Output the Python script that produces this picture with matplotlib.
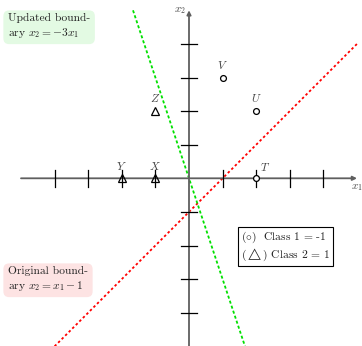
import matplotlib
matplotlib.use("Agg")
import matplotlib.pyplot as plt
import numpy as np

plt.rcParams["font.family"] = ["cmr10"]
plt.rcParams["mathtext.fontset"] = "cm"
plt.rcParams["lines.scale_dashes"] = False

# Labelled points and their classes
point_names = ["T", "U", "V", "X", "Y", "Z"]
point_x = [2, 2, 1, -1, -2, -1]
point_y = [0, 2, 3, 0, 0, 2]
point_class = [1, 1, 1, 2, 2, 2]   # 1 -> circle, 2 -> triangle

# Tick positions on both axes
tick_values = [-4, -3, -2, -1, 1, 2, 3, 4]

# Decision boundaries
orig_x = [-4, 5]            # x2 = x1 - 1
upd_x = [-5 / 3, 5 / 3]     # x2 = -3 x1

W, H = 362, 346
unit = 33.6
ox, oy = 189, 178.3
fig = plt.figure(figsize=(W / 100, H / 100), dpi=100)
ax = fig.add_axes([0, 0, 1, 1])
ax.set_xlim(-ox / unit, (W - ox) / unit)
ax.set_ylim(-(H - oy) / unit, oy / unit)
ax.axis("off")

axis_col = "#5f5f5f"
# axes with arrow heads
ax.annotate("", xy=(5.0, 0), xytext=(-5.0, 0),
            arrowprops=dict(arrowstyle="-|>", color=axis_col, lw=1.3,
                            mutation_scale=6, shrinkA=0, shrinkB=0))
ax.annotate("", xy=(0, 5.0), xytext=(0, -5.2),
            arrowprops=dict(arrowstyle="-|>", color=axis_col, lw=1.3,
                            mutation_scale=6, shrinkA=0, shrinkB=0))
ax.text(5.0, -0.1, r"$x_1$", ha="center", va="top", fontsize=8, color="#444444")
ax.text(-0.1, 5.0, r"$x_2$", ha="right", va="center", fontsize=8, color="#444444")

tl = 0.25
for t in tick_values:
    ax.plot([t, t], [-tl, tl], color="black", lw=0.9, zorder=3)
    ax.plot([-tl, tl], [t, t], color="black", lw=0.9, zorder=3)

# boundaries
ax.plot(orig_x, [v - 1 for v in orig_x], color="#ff0000", lw=1.3,
        dashes=(1.8, 1.8), zorder=2)
ax.plot(upd_x, [-3 * v for v in upd_x], color="#00e000", lw=1.3,
        dashes=(2.2, 1.6), zorder=2)

# points
for n, x, y, c in zip(point_names, point_x, point_y, point_class):
    if c == 1:
        ax.plot(x, y, marker="o", ms=4.2, mfc="white", mec="black", mew=0.9, zorder=4)
    else:
        ax.plot(x, y, marker="^", ms=6, mfc="none", mec="black", mew=0.9, zorder=4)
    if n == "T":
        ax.text(x + 0.12, y + 0.15, f"${n}$", ha="left", va="bottom", fontsize=8.3, color="#444444")
    else:
        ax.text(x, y + 0.2, f"${n}$", ha="center", va="bottom", fontsize=8.3, color="#444444")

# annotation boxes
fs = 8.3
ax.text(8 / W, 1 - 13 / H, "Updated bound-\nary $x_2 = -3x_1$", transform=fig.transFigure,
        ha="left", va="top", fontsize=fs, color="#222222", linespacing=1.25,
        bbox=dict(boxstyle="round,pad=0.4,rounding_size=0.5", fc="#e3fae3", ec="none"))
ax.text(8 / W, 1 - 266 / H, "Original bound-\nary $x_2 = x_1 - 1$", transform=fig.transFigure,
        ha="left", va="top", fontsize=fs, color="#222222", linespacing=1.25,
        bbox=dict(boxstyle="round,pad=0.4,rounding_size=0.5", fc="#fde3e3", ec="none"))
ax.text(241 / W, 1 - 230 / H, r"$(\circ)$  Class 1 = -1" + "\n" + r"$(\triangle)$ Class 2 = 1",
        transform=fig.transFigure, ha="left", va="top", fontsize=fs, color="#222222",
        linespacing=1.1,
        bbox=dict(boxstyle="square,pad=0.25", fc="white", ec="black", lw=0.8))

fig.savefig("out.png", dpi=100)
